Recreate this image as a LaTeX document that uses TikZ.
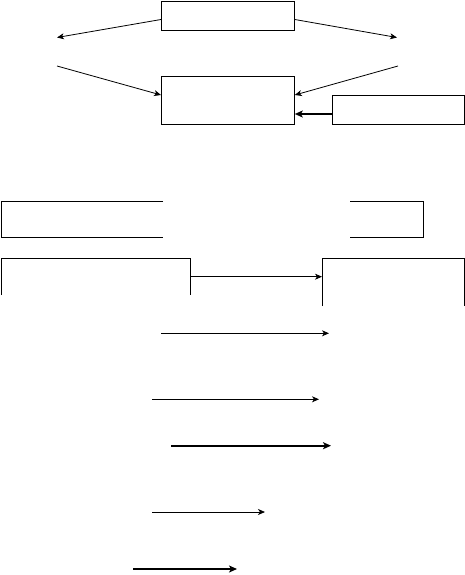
\documentclass[tikz,border=0pt]{standalone}
\usetikzlibrary{arrows.meta}
\begin{document}
\begin{tikzpicture}[x=1pt,y=-1pt,
  box/.style={draw,line width=0.8pt,inner sep=0pt,anchor=north west},
  thin/.style={line width=0.8pt,-{Stealth[length=7pt,width=6pt,inset=2pt]}},
  thick/.style={line width=1.6pt,-{Stealth[length=8pt,width=7pt,inset=2pt]}},
  brk/.style={line width=0.8pt}]
\useasboundingbox (0,0) rectangle (465,575);
% top part
\node[box,minimum width=133pt,minimum height=29pt] (top) at (161,0.6) {};
\node[box,minimum width=133pt,minimum height=48pt] (mid) at (161,76) {};
\node[box,minimum width=132pt,minimum height=29pt] (side) at (332,95) {};
\coordinate (lt) at (57,37.5);
\coordinate (rt) at (397,37.5);
\coordinate (lb) at (57,66);
\coordinate (rb) at (398,66);
\draw[thin] (top.west |- 0,19.5) -- (lt);
\draw[thin] (top.east |- 0,19.5) -- (rt);
\draw[thin] (lb) -- (mid.west |- 0,95);
\draw[thin] (rb) -- (mid.east |- 0,95);
\draw[thick] (side.west |- 0,114) -- (mid.east |- 0,114);
% brackets
\draw[brk] (163,201.3) -- (1,201.3) -- (1,237.3) -- (163,237.3);
\draw[brk] (350,201.3) -- (423,201.3) -- (423,237.3) -- (350,237.3);
\coordinate (la) at (190,258.3);
\coordinate (ra) at (322,258.3);
\draw[brk] (1,295) -- (1,258.3) -- (la) -- (190,295);
\draw[brk] (ra |- 0,306) -- (ra) -- (464,258.3) -- (464,306);
\draw[thin] (190,276.7) -- (322,276.7);
% arrows
\coordinate (a1s) at (161,333.3); \coordinate (a1e) at (329,333.3);
\coordinate (a2s) at (152,399.3); \coordinate (a2e) at (319,399.3);
\coordinate (a3s) at (171,445.7); \coordinate (a3e) at (331,445.7);
\coordinate (a4s) at (152,512); \coordinate (a4e) at (265,512);
\coordinate (a5s) at (133,569); \coordinate (a5e) at (237,569);
\draw[thin] (a1s) -- (a1e);
\draw[thin] (a2s) -- (a2e);
\draw[thick] (a3s) -- (a3e);
\draw[thin] (a4s) -- (a4e);
\draw[thick] (a5s) -- (a5e);
\end{tikzpicture}
\end{document}
